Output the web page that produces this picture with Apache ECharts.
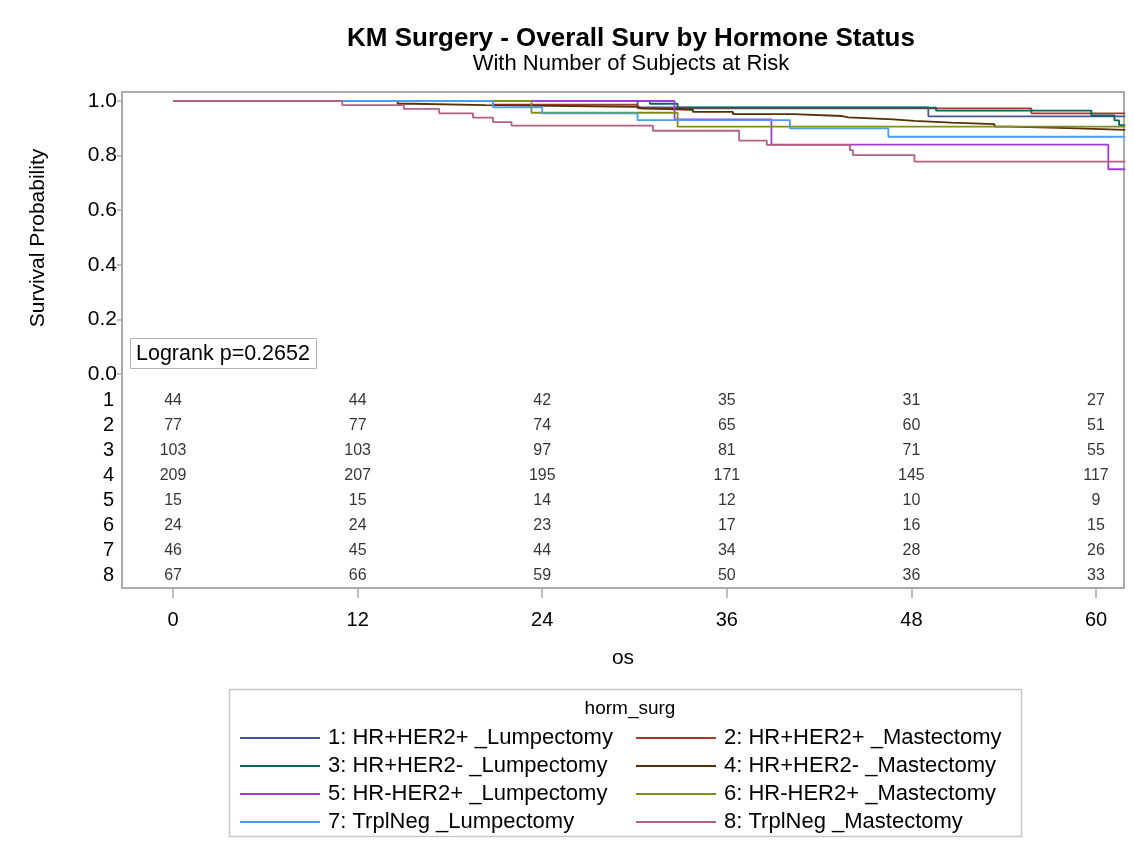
<!DOCTYPE html>
<html><head><meta charset="utf-8">
<script src="https://cdn.jsdelivr.net/npm/echarts@6/dist/echarts.min.js"></script>
<style>html,body{margin:0;padding:0;background:#fff}#c{width:1134px;height:849px}</style>
</head><body><div id="c"></div>
<script>
const FONT = '"Liberation Sans", Arial, Helvetica, sans-serif';

const groupNames = [
  '1: HR+HER2+ _Lumpectomy', '2: HR+HER2+ _Mastectomy',
  '3: HR+HER2- _Lumpectomy', '4: HR+HER2- _Mastectomy',
  '5: HR-HER2+ _Lumpectomy', '6: HR-HER2+ _Mastectomy',
  '7: TrplNeg _Lumpectomy',  '8: TrplNeg _Mastectomy'
];
const groupColors = ['#445694','#A23A2E','#01665E','#543005','#9D3CDB','#7F8E1F','#4A9EEE','#B26084'];
const rowLabels = ['1','2','3','4','5','6','7','8'];
const xTicks = [0, 12, 24, 36, 48, 60];
const yTicks = [0, 0.2, 0.4, 0.6, 0.8, 1.0];
const riskTimes = [0, 12, 24, 36, 48, 60];

// Kaplan-Meier steps: event times (months) and survival after each event
const time1 = [0, 30.2, 49.1, 61.9];
const surv1 = [1, 0.977, 0.944, 0.944];
const time2 = [0, 20.8, 30.2, 55.8, 61.9];
const surv2 = [1, 0.987, 0.973, 0.955, 0.955];
const time3 = [0, 31.0, 32.8, 49.6, 59.7, 61.2, 61.5, 61.9];
const surv3 = [1, 0.990, 0.976, 0.965, 0.947, 0.929, 0.912, 0.912];
const time4 = [0, 14.6, 15.6, 20.3, 30.2, 30.5, 33.8, 36.4, 40.3, 43.5, 43.9, 46.8, 48.2, 50.6, 53.4, 54.4, 58.8, 61.9];
const surv4 = [1, 0.990, 0.985, 0.979, 0.973, 0.968, 0.960, 0.952, 0.945, 0.940, 0.933, 0.927, 0.921, 0.915, 0.906, 0.900, 0.894, 0.894];
const time5 = [0, 32.6, 38.9, 60.8, 61.9];
const surv5 = [1, 0.933, 0.840, 0.750, 0.750];
const time6 = [0, 23.3, 32.8, 61.9];
const surv6 = [1, 0.957, 0.906, 0.906];
const time7 = [0, 20.8, 24.0, 30.2, 40.1, 46.5, 61.9];
const surv7 = [1, 0.977, 0.955, 0.930, 0.900, 0.869, 0.869];
const time8 = [0, 11.0, 15.0, 17.3, 19.5, 20.8, 22.0, 31.2, 36.8, 38.6, 44.0, 44.2, 48.2, 61.9];
const surv8 = [1, 0.985, 0.971, 0.955, 0.939, 0.923, 0.910, 0.891, 0.855, 0.839, 0.820, 0.802, 0.778, 0.778];

// Number of subjects at risk
const risk1 = [44, 44, 42, 35, 31, 27];
const risk2 = [77, 77, 74, 65, 60, 51];
const risk3 = [103, 103, 97, 81, 71, 55];
const risk4 = [209, 207, 195, 171, 145, 117];
const risk5 = [15, 15, 14, 12, 10, 9];
const risk6 = [24, 24, 23, 17, 16, 15];
const risk7 = [46, 45, 44, 34, 28, 26];
const risk8 = [67, 66, 59, 50, 36, 33];

const logrankText = 'Logrank p=0.2652';

const times = [time1, time2, time3, time4, time5, time6, time7, time8];
const survs = [surv1, surv2, surv3, surv4, surv5, surv6, surv7, surv8];
const risks = [risk1, risk2, risk3, risk4, risk5, risk6, risk7, risk8];

const X_MIN = -3.32, X_MAX = 61.82;
const Y_MIN = -0.784, Y_MAX = 1.033;

const kmSeries = groupNames.map((name, g) => ({
  name: name,
  type: 'line',
  step: 'end',
  xAxisIndex: 0, yAxisIndex: 0,
  symbol: 'none',
  data: times[g].map((t, i) => [t, survs[g][i]]),
  lineStyle: { color: groupColors[g], width: 1.8 },
  itemStyle: { color: groupColors[g] },
  emphasis: { disabled: true },
  animation: false
}));

const riskData = [];
risks.forEach((r, g) => r.forEach((n, j) => riskData.push([riskTimes[j], rowLabels[g], n])));

const riskSeries = {
  type: 'scatter',
  xAxisIndex: 1, yAxisIndex: 1,
  symbolSize: 0,
  data: riskData,
  label: {
    show: true, position: 'inside',
    formatter: p => String(p.value[2]),
    color: '#000', fontFamily: FONT, fontSize: 16
  },
  silent: true, animation: false
};

const legendCommon = {
  orient: 'vertical', top: 719, icon: 'rect', itemWidth: 80, itemHeight: 2, itemGap: 0,
  textStyle: { fontFamily: FONT, fontSize: 22, lineHeight: 28, color: '#000', padding: [0, 0, 0, 3] },
  selectedMode: false
};

const chart = echarts.init(document.getElementById('c'), null, { renderer: 'canvas' });
chart.setOption({
  backgroundColor: '#fff',
  animation: false,
  textStyle: { fontFamily: FONT },
  title: [
    { text: 'KM Surgery - Overall Surv by Hormone Status', left: 626, textAlign: 'center', top: 21,
      textStyle: { fontFamily: FONT, fontSize: 26, fontWeight: 'bold', color: '#000' } },
    { text: 'With Number of Subjects at Risk', left: 626, textAlign: 'center', top: 48,
      textStyle: { fontFamily: FONT, fontSize: 22, fontWeight: 'normal', color: '#000' } },
    { text: logrankText, left: 130, top: 338, padding: [5, 7, 4, 6],
      borderColor: '#b4b4b4', borderWidth: 1,
      textStyle: { fontFamily: FONT, fontSize: 21.5, fontWeight: 'normal', color: '#000' } },
    { text: 'horm_surg', left: 625, textAlign: 'center', top: 694,
      textStyle: { fontFamily: FONT, fontSize: 19, fontWeight: 'normal', color: '#000' } }
  ],
  grid: [
    { left: 122, right: 10, top: 92, height: 496, show: true, borderColor: '#ababab', borderWidth: 2, backgroundColor: 'transparent' },
    { left: 122, right: 10, top: 388, height: 200 }
  ],
  xAxis: [
    { type: 'value', gridIndex: 0, min: X_MIN, max: X_MAX,
      name: 'os', nameLocation: 'middle', nameGap: 60,
      nameTextStyle: { fontFamily: FONT, fontSize: 21, color: '#000' },
      axisLine: { show: false, onZero: false },
      axisTick: { show: true, customValues: xTicks, length: 10, lineStyle: { color: '#ababab', width: 1.5 } },
      axisLabel: { show: true, customValues: xTicks, margin: 22, color: '#000', fontFamily: FONT, fontSize: 20 },
      splitLine: { show: false } },
    { type: 'value', gridIndex: 1, min: X_MIN, max: X_MAX, show: false, axisLine: { onZero: false } }
  ],
  yAxis: [
    { type: 'value', gridIndex: 0, min: Y_MIN, max: Y_MAX,
      axisLine: { show: false, onZero: false },
      axisTick: { show: true, customValues: yTicks, length: 5, lineStyle: { color: '#ababab', width: 1.5 } },
      axisLabel: { show: true, customValues: yTicks, margin: 5, formatter: v => v.toFixed(1), color: '#000', fontFamily: FONT, fontSize: 21 },
      splitLine: { show: false } },
    { type: 'category', gridIndex: 1, data: rowLabels, inverse: true,
      axisLine: { show: false, onZero: false }, axisTick: { show: false }, splitLine: { show: false },
      axisLabel: { show: true, interval: 0, margin: 8, color: '#000', fontFamily: FONT, fontSize: 20 } }
  ],
  legend: [
    Object.assign({ data: [groupNames[0], groupNames[2], groupNames[4], groupNames[6]], left: 235 }, legendCommon),
    Object.assign({ data: [groupNames[1], groupNames[3], groupNames[5], groupNames[7]], left: 631 }, legendCommon)
  ],
  graphic: [
    { type: 'rect', left: 227, top: 687, shape: { width: 792, height: 147 },
      style: { fill: 'none', stroke: '#c8c8c8', lineWidth: 1.5 }, silent: true },
    { type: 'text', x: 38, y: 238, rotation: Math.PI / 2,
      style: { text: 'Survival Probability', fontFamily: FONT, fontSize: 21, fill: '#000', align: 'center', verticalAlign: 'middle' }, silent: true }
  ],
  series: kmSeries.concat([riskSeries])
});
</script></body></html>
